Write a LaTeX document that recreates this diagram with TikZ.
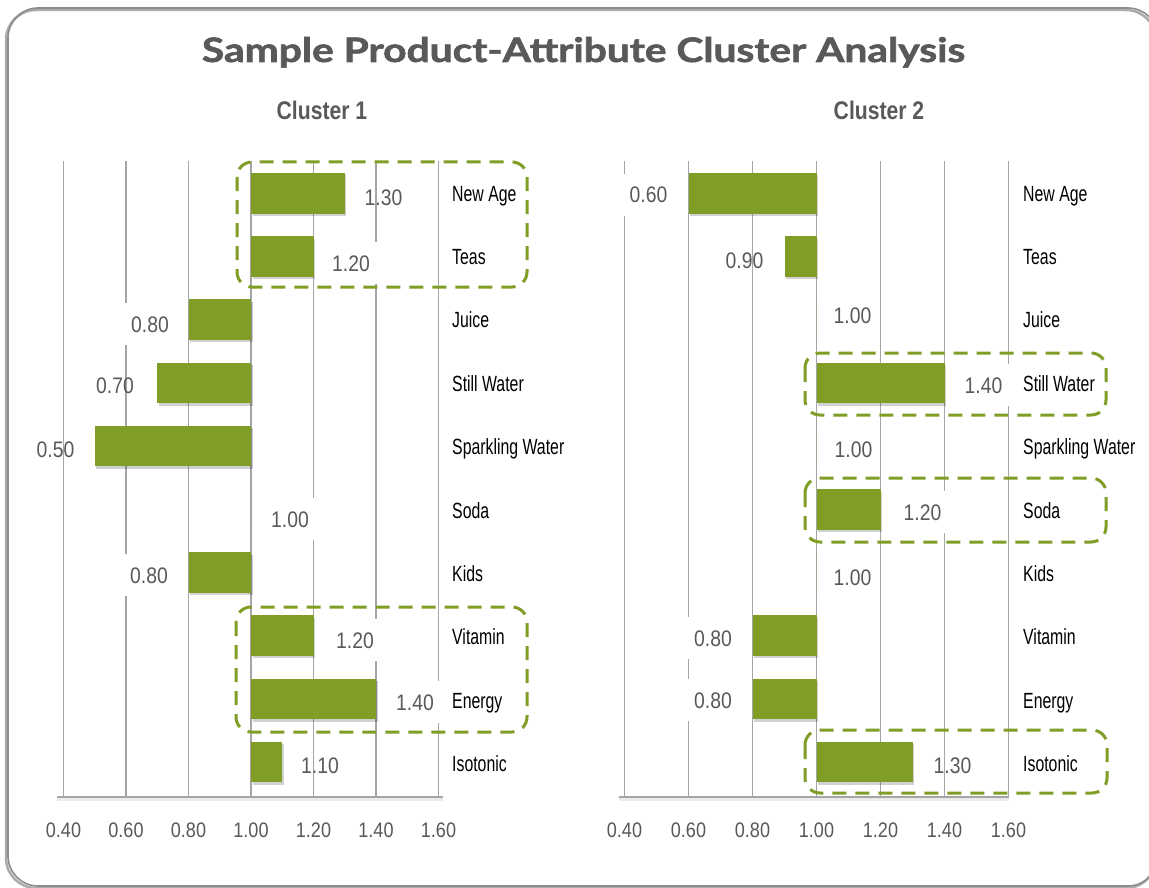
\documentclass[tikz,border=0pt]{standalone}
\usepackage{fontspec}
\usepackage{graphicx}
\setmainfont{Liberation Sans}
\newfontfamily\catfont[FakeStretch=0.72]{Liberation Sans}
\newfontfamily\numfont[FakeStretch=0.86]{Liberation Sans}
\newfontfamily\clusterfont[FakeStretch=0.83]{Liberation Sans}
\newfontfamily\titlefont[BoldFeatures={FakeBold=1.6}]{Lato}
\definecolor{barg}{RGB}{128,158,38}
\definecolor{txtg}{RGB}{89,89,89}
\definecolor{gridc}{RGB}{165,165,165}
\definecolor{framec}{RGB}{140,140,140}
\begin{document}
\begin{tikzpicture}[x=1pt,y=-1pt,
  grid/.style={draw=gridc, line width=1.3},
  axisline/.style={draw=gridc, line width=2.6},
  bar/.style={fill=barg},
  barshadow/.style={fill=black, opacity=0.18},
  val/.style={font=\numfont\fontsize{22.5}{26}\selectfont, text=txtg, anchor=base, inner sep=0},
  valbox/.style={fill=white, inner xsep=7, minimum height=42},
  plain/.style={},
  tick/.style={font=\numfont\fontsize{21}{25}\selectfont, text=txtg, anchor=base, inner sep=0},
  cat/.style={font=\catfont\fontsize{22}{26}\selectfont, text=black, anchor=base west, inner sep=0},
  cltitle/.style={font=\clusterfont\bfseries\fontsize{25.5}{30}\selectfont, text=txtg, anchor=base, inner sep=0},
  groupbox/.style={draw=barg, line width=3, dash pattern=on 14 off 9, rounded corners=15}
]
\useasboundingbox (0,0) rectangle (1149,888);
\fill[white] (0,0) rectangle (1149,888);
% frame
\draw[black!60, opacity=0.55, line width=2.5, rounded corners=30] (6,10) rectangle (1156,888);
\draw[framec, line width=1.6, rounded corners=30] (8,8) rectangle (1158,886);
% title
\node[anchor=base, inner sep=0, text=txtg] (title) at (583.5,62)
  {\resizebox{763pt}{25pt}{\titlefont\bfseries Sample Product-Attribute Cluster Analysis}};
\node[cltitle] (c1title) at (322,120) {Cluster 1};
\node[cltitle] (c2title) at (879,120) {Cluster 2};
% gridlines
\foreach \k in {0,...,6} {
  \draw[grid] ({63.5+62.5*\k},161) -- ({63.5+62.5*\k},797);
  \draw[grid] ({624.5+64*\k},161) -- ({624.5+64*\k},797);
}
% bars cluster 1
\foreach \v [count=\i from 0] in {1.30,1.20,0.80,0.70,0.50,1.00,0.80,1.20,1.40,1.10} {
  \pgfmathsetmacro\xa{251+(\v-1)*312.5}
  \pgfmathsetmacro\ya{173+63.2*\i}
  \fill[barshadow] (252.5,{\ya+2.5}) rectangle ({\xa+1.5},{\ya+43});
  \fill[bar] (251,\ya) rectangle (\xa,{\ya+40.5});
}
% bars cluster 2
\foreach \v [count=\i from 0] in {0.60,0.90,1.00,1.40,1.00,1.20,1.00,0.80,0.80,1.30} {
  \pgfmathsetmacro\xa{816.5+(\v-1)*320}
  \pgfmathsetmacro\ya{173+63.2*\i}
  \fill[barshadow] (818,{\ya+2.5}) rectangle ({\xa+1.5},{\ya+43});
  \fill[bar] (816.5,\ya) rectangle (\xa,{\ya+40.5});
}
% value labels cluster 1
\foreach \x/\y/\t/\f [count=\i] in {383.5/205/1.30/plain, 351/271/1.20/valbox, 150/332/0.80/valbox,
  115/393/0.70/plain, 55.5/457/0.50/plain, 290/527/1.00/valbox, 149/583/0.80/valbox,
  355/648/1.20/valbox, 415/710/1.40/valbox, 320/773/1.10/plain} {
  \node[val,\f] (c1val\i) at (\x,\y) {\t};
}
% value labels cluster 2
\foreach \x/\y/\t/\f [count=\i] in {648.5/203/0.60/valbox, 744.5/268/0.90/plain, 852.5/323/1.00/valbox,
  983.5/393/1.40/valbox, 853.5/457/1.00/valbox, 922.5/520/1.20/valbox, 852.5/585/1.00/valbox,
  713/646/0.80/valbox, 713/708/0.80/valbox, 952.5/773/1.30/plain} {
  \node[val,\f] (c2val\i) at (\x,\y) {\t};
}
% axes
\draw[black, opacity=0.08, line width=3] (57,799.5) -- (443,799.5);
\draw[axisline] (57,797) -- (443,797);
\draw[black, opacity=0.08, line width=3] (619,799.5) -- (1009,799.5);
\draw[axisline] (619,797) -- (1009,797);
% tick labels
\foreach \t [count=\k from 0] in {0.40,0.60,0.80,1.00,1.20,1.40,1.60} {
  \node[tick] (c1tick\k) at ({63.5+62.5*\k},837) {\t};
  \node[tick] (c2tick\k) at ({624.5+64*\k},837) {\t};
}
% category labels
\foreach \c [count=\i from 0] in {New Age,Teas,Juice,Still Water,Sparkling Water,Soda,Kids,Vitamin,Energy,Isotonic} {
  \node[cat] (c1cat\i) at (452,{201+63.4*\i}) {\c};
  \node[cat] (c2cat\i) at (1023,{201+63.4*\i}) {\c};
}
% dashed group boxes
\draw[groupbox] (237,162) rectangle (527,287);
\draw[groupbox] (236,607) rectangle (527,732);
\draw[groupbox] (805,353) rectangle (1106,415);
\draw[groupbox] (805,478) rectangle (1106,542);
\draw[groupbox] (805,730) rectangle (1107,793);
\end{tikzpicture}
\end{document}
